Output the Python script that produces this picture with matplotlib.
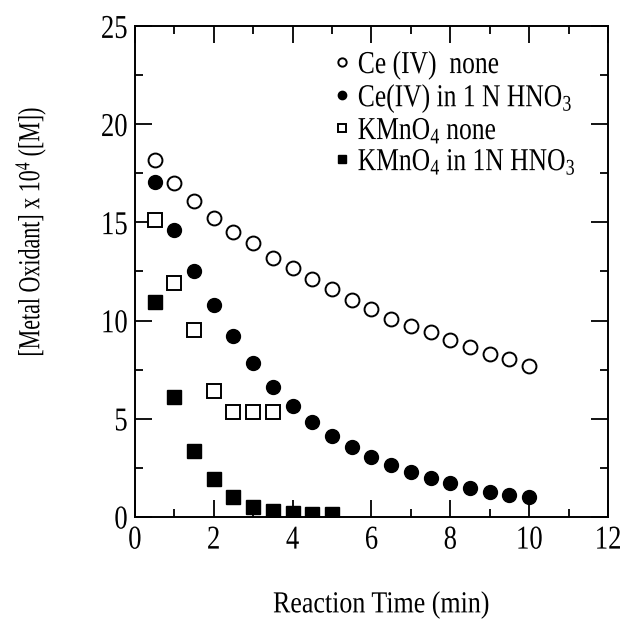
import matplotlib
matplotlib.use("Agg")
import matplotlib.pyplot as plt
from matplotlib.ticker import MultipleLocator
from matplotlib.patheffects import AbstractPathEffect
from matplotlib.transforms import Affine2D

plt.rcParams['font.family'] = ['Liberation Serif', 'DejaVu Serif']
plt.rcParams['mathtext.fontset'] = 'custom'
plt.rcParams['mathtext.rm'] = 'Liberation Serif'
plt.rcParams['mathtext.it'] = 'Liberation Serif:italic'

# reaction time (min)
time_ce = [0.5, 1.0, 1.5, 2.0, 2.5, 3.0, 3.5, 4.0, 4.5, 5.0,
           5.5, 6.0, 6.5, 7.0, 7.5, 8.0, 8.5, 9.0, 9.5, 10.0]
time_kmno4_none = [0.5, 1.0, 1.5, 2.0, 2.5, 3.0, 3.5]
time_kmno4_acid = [0.5, 1.0, 1.5, 2.0, 2.5, 3.0, 3.5, 4.0, 4.5, 5.0]

# oxidant concentration x 10^4 (M)
ce_none = [18.2, 17.0, 16.1, 15.2, 14.5, 13.95, 13.2, 12.7, 12.1, 11.6,
           11.05, 10.6, 10.1, 9.7, 9.4, 9.0, 8.65, 8.3, 8.05, 7.7]
ce_acid = [17.05, 14.6, 12.5, 10.8, 9.2, 7.85, 6.6, 5.65, 4.85, 4.1,
           3.55, 3.05, 2.65, 2.3, 2.0, 1.7, 1.45, 1.25, 1.1, 1.0]
kmno4_none = [15.1, 11.9, 9.5, 6.4, 5.35, 5.35, 5.35]
kmno4_acid = [10.95, 6.1, 3.35, 1.9, 1.0, 0.5, 0.32, 0.2, 0.15, 0.15]

labels = ["Ce (IV)  none", r"Ce(IV) in 1 N HNO$_3$",
          r"KMnO$_4$ none", r"KMnO$_4$ in 1N HNO$_3$"]


class Narrow(AbstractPathEffect):
    """Squeeze a text path along one direction, keeping one edge fixed."""

    def __init__(self, sx=1.0, sy=1.0, anchor='center'):
        super().__init__()
        self.sx, self.sy, self.anchor = sx, sy, anchor

    def draw_path(self, renderer, gc, tpath, affine, rgbFace=None):
        bb = tpath.get_extents(affine)
        if self.anchor == 'left':
            cx = bb.x0
        elif self.anchor == 'right':
            cx = bb.x1
        else:
            cx = 0.5 * (bb.x0 + bb.x1)
        cy = 0.5 * (bb.y0 + bb.y1)
        squeeze = Affine2D().translate(-cx, -cy).scale(self.sx, self.sy).translate(cx, cy)
        renderer.draw_path(gc, tpath, affine + squeeze, rgbFace)


fig = plt.figure(figsize=(6.36, 6.38), dpi=100)
ax = fig.add_axes([0.212, 0.19, 0.744, 0.769])

ax.plot(time_ce, ce_none, 'o', ms=10, mfc='white', mec='black', mew=1.4, label=labels[0])
ax.plot(time_ce, ce_acid, 'o', ms=10, mfc='black', mec='black', label=labels[1])
ax.plot(time_kmno4_none, kmno4_none, 's', ms=9.5, mfc='white', mec='black', mew=1.4, label=labels[2])
ax.plot(time_kmno4_acid, kmno4_acid, 's', ms=9.5, mfc='black', mec='black', label=labels[3])

ax.set_xlim(0, 12)
ax.set_ylim(0, 25)
ax.xaxis.set_major_locator(MultipleLocator(2))
ax.xaxis.set_minor_locator(MultipleLocator(1))
ax.yaxis.set_major_locator(MultipleLocator(5))
ax.yaxis.set_minor_locator(MultipleLocator(2.5))
ax.tick_params(which='both', direction='in', top=True, right=True, width=1.3, labelsize=24)
ax.tick_params(which='major', length=12)
ax.tick_params(which='minor', length=6)
ax.tick_params(axis='x', pad=6)
ax.tick_params(axis='y', pad=5)
for s in ax.spines.values():
    s.set_linewidth(1.4)

fig.canvas.draw()
for t in ax.get_xticklabels():
    t.set_path_effects([Narrow(sx=0.8)])
for t in ax.get_yticklabels():
    t.set_path_effects([Narrow(sx=0.8, anchor='right')])

xl = ax.set_xlabel("Reaction Time (min)", fontsize=22)
yl = ax.set_ylabel(r"[Metal Oxidant] x 10$^4$ ([M])", fontsize=22)
xl.set_path_effects([Narrow(sx=0.85)])
yl.set_path_effects([Narrow(sy=0.72)])
ax.xaxis.set_label_coords(0.52, -0.15)
ax.yaxis.set_label_coords(-0.183, 0.58)

leg = ax.legend(loc='upper left', bbox_to_anchor=(0.42, 0.95), frameon=False, fontsize=23,
                markerscale=0.6, handlelength=0.5, handletextpad=0.25, labelspacing=0.05,
                borderaxespad=0.0, borderpad=0.0)
for t in leg.get_texts():
    t.set_path_effects([Narrow(sx=0.8, anchor='left')])

fig.savefig("out.png", dpi=100)
